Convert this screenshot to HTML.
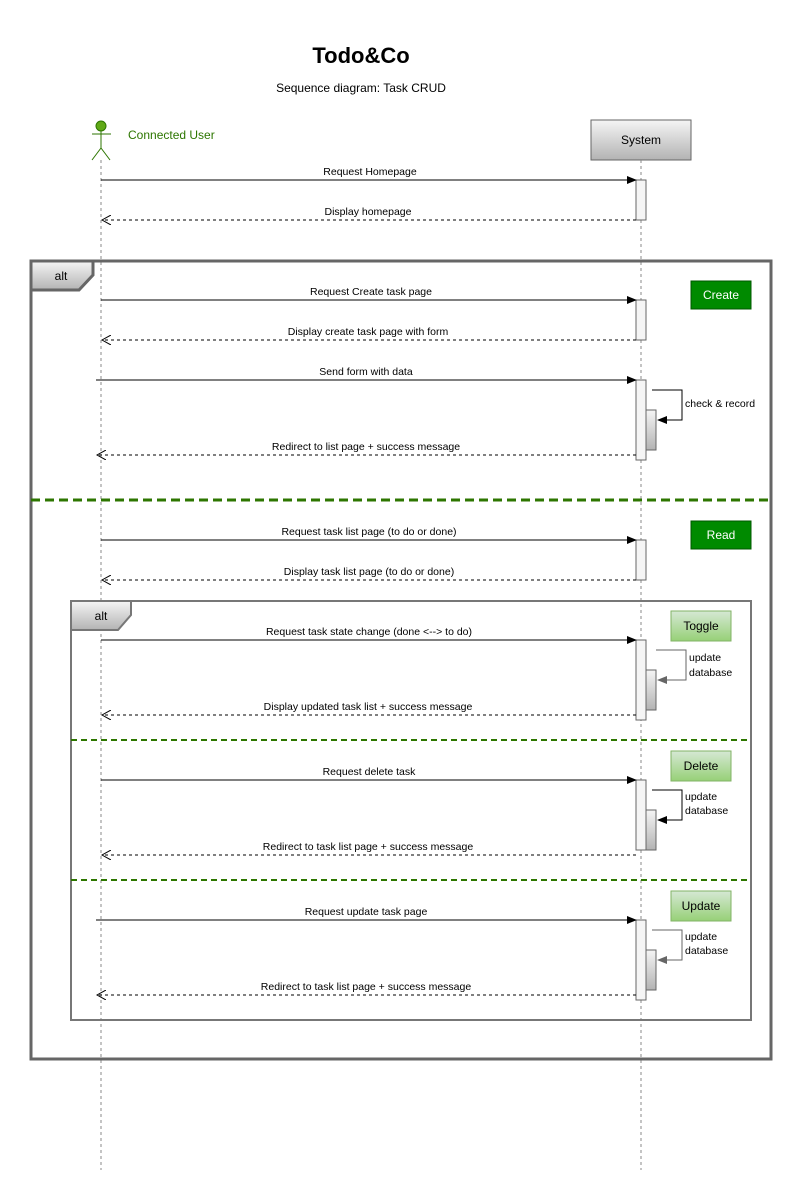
<!DOCTYPE html>
<html><head><meta charset="utf-8"><style>body{margin:0;background:#fff}svg{display:block}text{font-family:"Liberation Sans",sans-serif}</style></head><body>
<svg width="804" height="1201" viewBox="0 0 804 1201" xmlns="http://www.w3.org/2000/svg">
<defs>
<linearGradient id="g1" x1="0" y1="0" x2="0" y2="1"><stop offset="0" stop-color="#f5f5f5"/><stop offset="1" stop-color="#b3b3b3"/></linearGradient>
<linearGradient id="g2" x1="0" y1="0" x2="0" y2="1"><stop offset="0" stop-color="#d5e8d4"/><stop offset="1" stop-color="#97d077"/></linearGradient>
<marker id="af" markerWidth="10" markerHeight="8" refX="9" refY="4" orient="auto" markerUnits="userSpaceOnUse"><path d="M0,0 L10,4 L0,8 Z" fill="#000"/></marker>
<marker id="ag" markerWidth="10" markerHeight="8" refX="9" refY="4" orient="auto" markerUnits="userSpaceOnUse"><path d="M0,0 L10,4 L0,8 Z" fill="#666"/></marker>
<marker id="ao" markerWidth="10" markerHeight="10" refX="9" refY="5" orient="auto" markerUnits="userSpaceOnUse"><path d="M0,0 L9,5 L0,10" fill="none" stroke="#000"/></marker>
</defs>
<text x="361" y="63" font-size="22" font-weight="bold" text-anchor="middle">Todo&amp;Co</text>
<text x="361" y="92" font-size="12" text-anchor="middle">Sequence diagram: Task CRUD</text>
<!-- actor -->
<circle cx="101" cy="126" r="5" fill="#60a917" stroke="#2d7600"/>
<g stroke="#2d7600" fill="none"><line x1="101" y1="131" x2="101" y2="148"/><line x1="92" y1="134" x2="111" y2="134"/><line x1="101" y1="148" x2="92" y2="160"/><line x1="101" y1="148" x2="110" y2="160"/></g>
<text x="128" y="139" font-size="12" fill="#2d7600">Connected User</text>
<line x1="101" y1="160" x2="101" y2="1170" stroke="#888" stroke-dasharray="3,3"/>
<rect x="591" y="120" width="100" height="40" fill="url(#g1)" stroke="#666"/>
<text x="641" y="144" font-size="12" text-anchor="middle">System</text>
<line x1="641" y1="160" x2="641" y2="1170" stroke="#888" stroke-dasharray="3,3"/>
<!-- frames -->
<rect x="31" y="261" width="740" height="798" fill="none" stroke="#666" stroke-width="3"/>
<path d="M31,261 H93 V275 L79,290 H31 Z" fill="url(#g1)" stroke="#666" stroke-width="3"/>
<text x="61" y="280" font-size="12" text-anchor="middle">alt</text>
<line x1="31" y1="500" x2="771" y2="500" stroke="#2d7600" stroke-width="3" stroke-dasharray="9,5"/>
<rect x="71" y="601" width="680" height="419" fill="none" stroke="#777" stroke-width="2"/>
<path d="M71,601 H131 V615 L118,630 H71 Z" fill="url(#g1)" stroke="#777" stroke-width="2"/>
<text x="101" y="620" font-size="12" text-anchor="middle">alt</text>
<line x1="71" y1="740" x2="751" y2="740" stroke="#2d7600" stroke-width="2" stroke-dasharray="6,4"/>
<line x1="71" y1="880" x2="751" y2="880" stroke="#2d7600" stroke-width="2" stroke-dasharray="6,4"/>
<!-- labels -->
<rect x="691" y="281" width="60" height="28" fill="#008a00" stroke="#005700"/><text x="721" y="299" font-size="12" fill="#fff" text-anchor="middle">Create</text>
<rect x="691" y="521" width="60" height="28" fill="#008a00" stroke="#005700"/><text x="721" y="539" font-size="12" fill="#fff" text-anchor="middle">Read</text>
<rect x="671" y="611" width="60" height="30" fill="url(#g2)" stroke="#82b366"/><text x="701" y="630" font-size="12" text-anchor="middle">Toggle</text>
<rect x="671" y="751" width="60" height="30" fill="url(#g2)" stroke="#82b366"/><text x="701" y="770" font-size="12" text-anchor="middle">Delete</text>
<rect x="671" y="891" width="60" height="30" fill="url(#g2)" stroke="#82b366"/><text x="701" y="910" font-size="12" text-anchor="middle">Update</text>
<!-- activations -->
<g stroke="#666" fill="#f5f5f5">
<rect x="636" y="180" width="10" height="40"/>
<rect x="636" y="300" width="10" height="40"/>
<rect x="636" y="380" width="10" height="80"/>
<rect x="636" y="540" width="10" height="40"/>
<rect x="636" y="640" width="10" height="80"/>
<rect x="636" y="780" width="10" height="70"/>
<rect x="636" y="920" width="10" height="80"/>
</g>
<g stroke="#666" fill="url(#g1)">
<rect x="646" y="410" width="10" height="40"/>
<rect x="646" y="670" width="10" height="40"/>
<rect x="646" y="810" width="10" height="40"/>
<rect x="646" y="950" width="10" height="40"/>
</g>
<!-- messages -->
<g font-size="10.5" text-anchor="middle">
<line x1="101" y1="180" x2="636" y2="180" stroke="#000" marker-end="url(#af)"/><text x="370" y="175">Request Homepage</text>
<line x1="636" y1="220" x2="102" y2="220" stroke="#000" stroke-dasharray="3,3" marker-end="url(#ao)"/><text x="368" y="215">Display homepage</text>
<line x1="101" y1="300" x2="636" y2="300" stroke="#000" marker-end="url(#af)"/><text x="371" y="295">Request Create task page</text>
<line x1="636" y1="340" x2="102" y2="340" stroke="#000" stroke-dasharray="3,3" marker-end="url(#ao)"/><text x="368" y="335">Display create task page with form</text>
<line x1="96" y1="380" x2="636" y2="380" stroke="#000" marker-end="url(#af)"/><text x="366" y="375">Send form with data</text>
<line x1="636" y1="455" x2="97" y2="455" stroke="#000" stroke-dasharray="3,3" marker-end="url(#ao)"/><text x="366" y="450">Redirect to list page + success message</text>
<line x1="101" y1="540" x2="636" y2="540" stroke="#000" marker-end="url(#af)"/><text x="369" y="535">Request task list page (to do or done)</text>
<line x1="636" y1="580" x2="102" y2="580" stroke="#000" stroke-dasharray="3,3" marker-end="url(#ao)"/><text x="369" y="575">Display task list page (to do or done)</text>
<line x1="101" y1="640" x2="636" y2="640" stroke="#000" marker-end="url(#af)"/><text x="369" y="635">Request task state change (done &lt;--&gt; to do)</text>
<line x1="636" y1="715" x2="102" y2="715" stroke="#000" stroke-dasharray="3,3" marker-end="url(#ao)"/><text x="368" y="710">Display updated task list + success message</text>
<line x1="101" y1="780" x2="636" y2="780" stroke="#000" marker-end="url(#af)"/><text x="369" y="775">Request delete task</text>
<line x1="636" y1="855" x2="102" y2="855" stroke="#000" stroke-dasharray="3,3" marker-end="url(#ao)"/><text x="368" y="850">Redirect to task list page + success message</text>
<line x1="96" y1="920" x2="636" y2="920" stroke="#000" marker-end="url(#af)"/><text x="366" y="915">Request update task page</text>
<line x1="636" y1="995" x2="97" y2="995" stroke="#000" stroke-dasharray="3,3" marker-end="url(#ao)"/><text x="366" y="990">Redirect to task list page + success message</text>
</g>
<!-- self loops -->
<path d="M652,390 H682 V420 H658" fill="none" stroke="#000" marker-end="url(#af)"/>
<text x="685" y="407" font-size="10.5">check &amp; record</text>
<path d="M656,650 H686 V680 H658" fill="none" stroke="#666" marker-end="url(#ag)"/>
<text x="689" y="661" font-size="10.5">update</text><text x="689" y="676" font-size="10.5">database</text>
<path d="M652,790 H682 V820 H658" fill="none" stroke="#000" marker-end="url(#af)"/>
<text x="685" y="800" font-size="10.5">update</text><text x="685" y="814" font-size="10.5">database</text>
<path d="M652,930 H682 V960 H658" fill="none" stroke="#666" marker-end="url(#ag)"/>
<text x="685" y="940" font-size="10.5">update</text><text x="685" y="954" font-size="10.5">database</text>
</svg>
</body></html>
